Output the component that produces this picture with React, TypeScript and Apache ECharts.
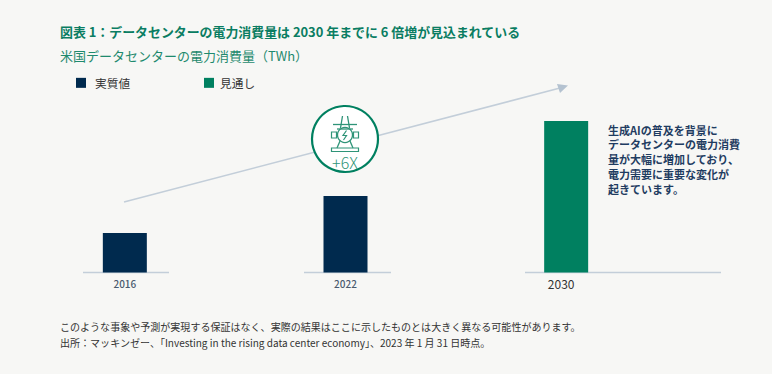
import React, { useEffect, useRef } from "react";
import * as echarts from "echarts";

const categories = ["2016", "2022", "2030"];
const actualValues = [26, 50.5, null];
const forecastValues = [null, null, 100];
const titleText = "図表 1：データセンターの電力消費量は 2030 年までに 6 倍増が見込まれている";
const subtitleText = "米国データセンターの電力消費量（TWh）";
const noteLines = ["生成AIの普及を背景に", "データセンターの電力消費", "量が大幅に増加しており、", "電力需要に重要な変化が", "起きています。"];
const footLines = [
  "このような事象や予測が実現する保証はなく、実際の結果はここに示したものとは大きく異なる可能性があります。",
  "出所：マッキンゼー、「Investing in the rising data center economy」、2023 年 1 月 31 日時点。",
];

const FONT = '"Noto Sans CJK JP", "Noto Sans", sans-serif';
const GREEN = "#008060";
const NAVY = "#002a4e";
const RULE = "#c3ced9";
const ICON = "#2f9478";

export default function App() {
  const ref = useRef<HTMLDivElement>(null);
  useEffect(() => {
    const chart = echarts.init(ref.current!, null, { renderer: "svg" });
    const hl = (x1: number, y1: number, x2: number, y2: number, stroke = RULE, lineWidth = 1.5, z = 1) => ({
      type: "line", z, shape: { x1, y1, x2, y2 }, style: { stroke, lineWidth },
    });
    const icon = (x1: number, y1: number, x2: number, y2: number) => hl(x1, y1, x2, y2, ICON, 1.3, 12);
    chart.setOption({
      animation: false,
      backgroundColor: "#f7f7f5",
      textStyle: { fontFamily: FONT },
      grid: { left: 14.5, right: 95.5, top: 121, height: 151.5 },
      legend: [
        {
          data: ["実質値"], left: 71, top: 72, icon: "rect", itemWidth: 10, itemHeight: 10, itemGap: 0,
          textStyle: { fontFamily: FONT, fontSize: 11.7, color: "#333", padding: [0, 0, 0, 4] }, selectedMode: false,
        },
        {
          data: ["見通し"], left: 199, top: 72, icon: "rect", itemWidth: 10, itemHeight: 10, itemGap: 0,
          textStyle: { fontFamily: FONT, fontSize: 11.7, color: "#333", padding: [0, 0, 0, 1] }, selectedMode: false,
        },
      ],
      xAxis: {
        type: "category",
        data: categories,
        axisLine: { show: false },
        axisTick: { show: false },
        axisLabel: {
          margin: 4,
          fontFamily: FONT,
          formatter: (v: string) => (v === "2030" ? `{b|${v}}` : `{a|${v}}`),
          rich: {
            a: { fontSize: 10, fontWeight: 500, color: "#4a5a6e", fontFamily: FONT, lineHeight: 14 },
            b: { fontSize: 12, color: "#333", fontFamily: FONT, lineHeight: 14, padding: [0, 10, 0, 0] },
          },
        },
      },
      yAxis: { type: "value", min: 0, max: 100, show: false },
      series: [
        { name: "実質値", type: "bar", data: actualValues, barWidth: 44, barGap: "-100%", itemStyle: { color: NAVY }, z: 3 },
        { name: "見通し", type: "bar", data: forecastValues, barWidth: 44, barGap: "-100%", itemStyle: { color: GREEN }, z: 3 },
      ],
      graphic: [
        { type: "text", left: 60, top: 25, style: { text: titleText, font: `bold 12.92px ${FONT}`, fill: "#0a7d62" } },
        { type: "text", left: 60, top: 49, style: { text: subtitleText, font: `13px ${FONT}`, fill: "#1f8a6e" } },
        hl(83, 272.5, 169, 272.5),
        hl(304, 272.5, 391, 272.5),
        hl(525, 272.5, 721, 272.5),
        hl(124, 202, 560, 88, RULE, 1.6),
        { type: "polygon", z: 2, shape: { points: [[568, 85.5], [557, 84], [560, 93]] }, style: { fill: "#b4c2d0" } },
        { type: "circle", z: 10, shape: { cx: 345, cy: 139, r: 33 }, style: { fill: "#fff", stroke: GREEN, lineWidth: 2.2 } },
        { type: "circle", z: 12, shape: { cx: 345, cy: 135, r: 7.5 }, style: { fill: "none", stroke: ICON, lineWidth: 1.3 } },
        { type: "polyline", z: 12, shape: { points: [[346.5, 130.5], [343, 135.5], [346.5, 135.5], [343.5, 140]] }, style: { fill: "none", stroke: ICON, lineWidth: 1.2 } },
        { type: "rect", z: 12, shape: { x: 331.5, y: 148, width: 27, height: 3.5 }, style: { fill: "none", stroke: ICON, lineWidth: 1.2 } },
        { type: "rect", z: 12, shape: { x: 331.5, y: 132, width: 5, height: 6 }, style: { fill: "none", stroke: ICON, lineWidth: 1.2 } },
        { type: "rect", z: 12, shape: { x: 353.5, y: 132, width: 5, height: 6 }, style: { fill: "none", stroke: ICON, lineWidth: 1.2 } },
        icon(333, 124.5, 357, 124.5),
        icon(342.5, 116, 340.5, 128),
        icon(347.5, 116, 349.5, 128),
        icon(337, 129, 353, 129),
        icon(340, 141, 337, 148),
        icon(350, 141, 353, 148),
        { type: "text", z: 12, style: { text: "+6X", x: 345, y: 161.5, align: "center", verticalAlign: "middle", font: `300 16px ${FONT}`, fill: ICON } },
        ...noteLines.map((t, i) => ({
          type: "text", left: 608, top: 124 + i * 14.8, style: { text: t, font: `bold 11px ${FONT}`, fill: "#1f3c61" },
        })),
        ...footLines.map((t, i) => ({
          type: "text", left: 60, top: 321 + i * 16, style: { text: t, font: `10.04px ${FONT}`, fill: "#333" },
        })),
      ],
    });
    return () => chart.dispose();
  }, []);
  return <div ref={ref} style={{ position: "fixed", left: 0, top: 0, width: 772, height: 374 }} />;
}
